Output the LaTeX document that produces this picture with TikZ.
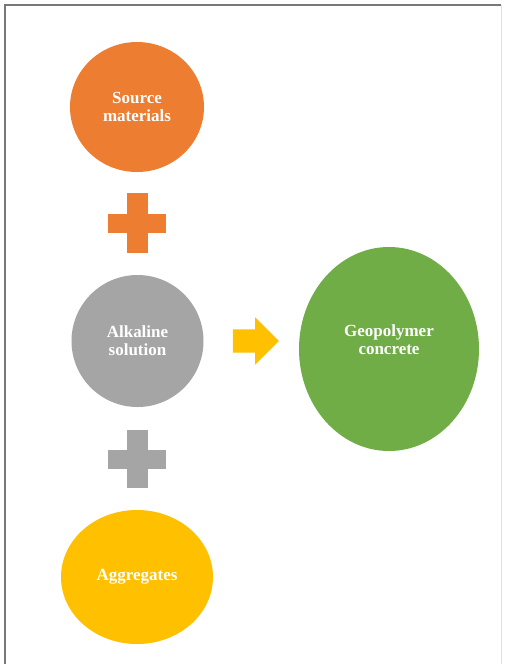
\documentclass[tikz,border=0pt]{standalone}
\usepackage{fontspec}
\setmainfont{Liberation Serif}
\usetikzlibrary{shapes.geometric,shapes.arrows,positioning}
\definecolor{srcOr}{HTML}{ED7D31}
\definecolor{alkGr}{HTML}{A5A5A5}
\definecolor{geoGn}{HTML}{70AD47}
\definecolor{aggYe}{HTML}{FFC000}
\definecolor{frameC}{RGB}{120,120,120}
\tikzset{
  blob/.style={ellipse, fill=#1, draw=none, align=center, text=white,
               font=\fontsize{14.5}{15.5}\selectfont\bfseries, inner sep=0pt},
  plusbar/.style={rectangle, fill=#1, draw=none, inner sep=0pt},
  fatarrow/.style={single arrow, fill=#1, draw=none, inner xsep=0pt, inner ysep=0.345cm,
                   single arrow head extend=0.36cm, minimum height=1.38cm},
}

\begin{document}
\begin{tikzpicture}[x=0.03cm, y=-0.03cm]
    \useasboundingbox (0,0) rectangle (509,664);
    \fill[white] (0,0) rectangle (509,664);
    % frame
    \draw[frameC, line width=1.1pt] (5,664) -- (5,5) -- (501,5);
    \draw[gray!25, line width=0.7pt] (501,5) -- (501,664);

    \node[blob=srcOr, minimum width=4.02cm, minimum height=3.9cm] (src) at (137,107)
      {Source\\materials};
    \node[blob=alkGr, minimum width=3.96cm, minimum height=3.96cm] (alk) at (137.5,341)
      {Alkaline\\solution};
    \node[blob=aggYe, minimum width=4.56cm, minimum height=4.02cm] (agg) at (137,577)
      {Aggregates};
    \node[blob=geoGn, minimum width=5.4cm, minimum height=6.12cm] (geo) at (389,349)
      {Geopolymer\\concrete\\[0pt]};

    % plus signs
    \node[plusbar=srcOr, minimum width=1.74cm, minimum height=0.57cm] (plusA) at (137,223) {};
    \node[plusbar=srcOr, minimum width=0.63cm, minimum height=1.8cm] at (plusA) {};
    \node[plusbar=alkGr, minimum width=1.74cm, minimum height=0.57cm] (plusB) at (137,459) {};
    \node[plusbar=alkGr, minimum width=0.63cm, minimum height=1.74cm] at (plusB) {};

    % block arrow
    \node[fatarrow=aggYe] (arw) at (250,341) {};
  \end{tikzpicture}
\end{document}
